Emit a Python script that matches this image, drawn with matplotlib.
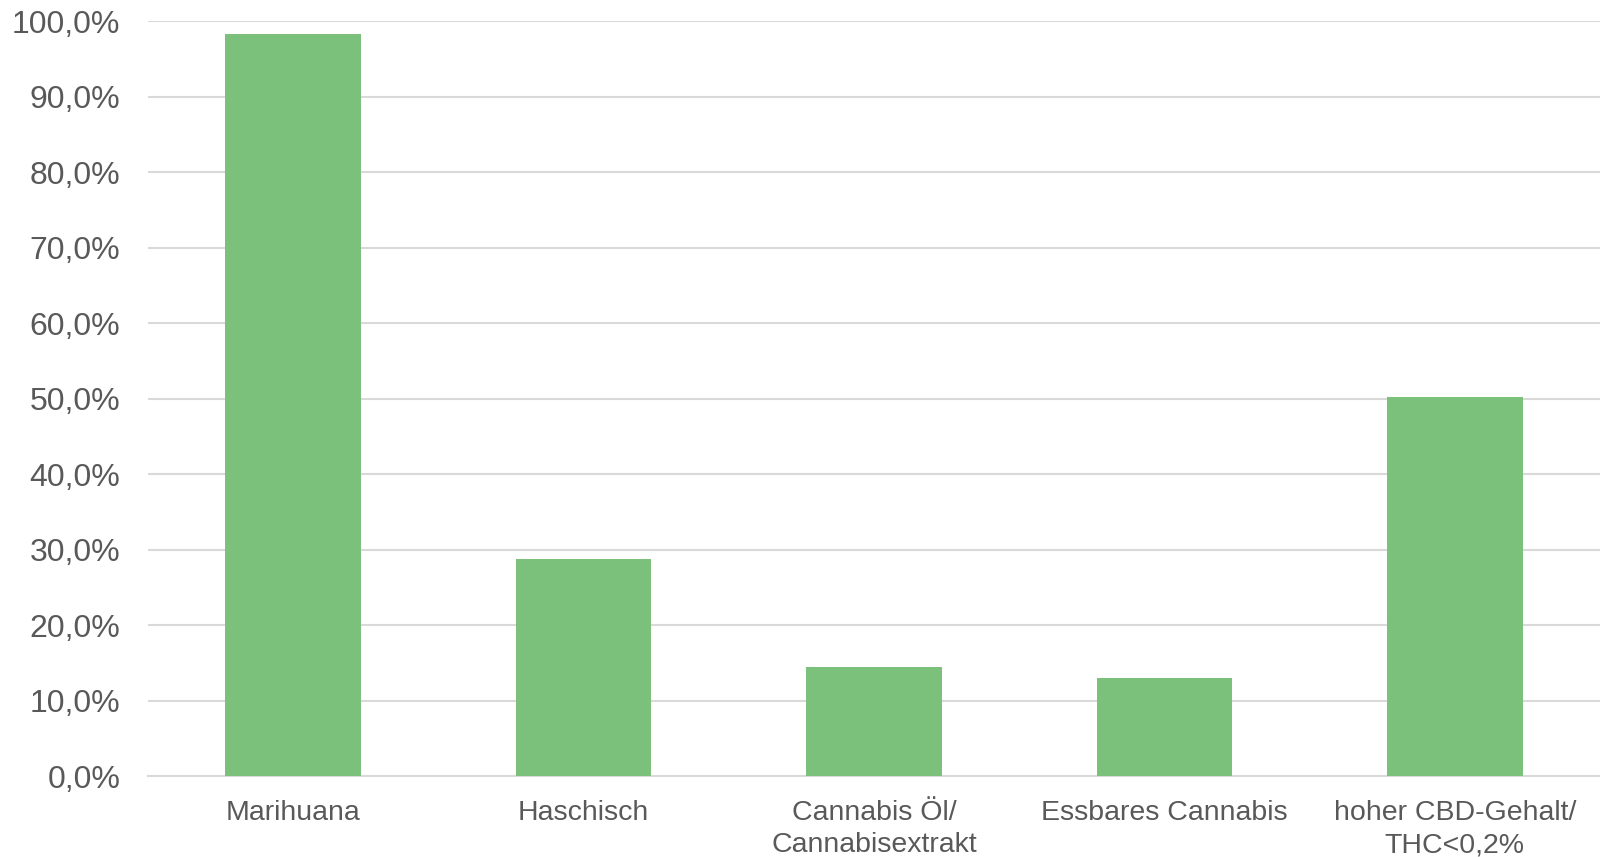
import matplotlib.pyplot as plt
from matplotlib.ticker import FuncFormatter

# Data
categories = ["Marihuana", "Haschisch", "Cannabis Öl/\nCannabisextrakt",
              "Essbares Cannabis", "hoher CBD-Gehalt/\nTHC<0,2%"]
values = [98.3, 28.8, 14.5, 13.0, 50.3]
y_ticks = list(range(0, 101, 10))

plt.rcParams['font.family'] = ['Liberation Sans', 'DejaVu Sans']

fig = plt.figure(figsize=(16, 8.57), dpi=100)
ax = fig.add_axes([0.0925, 0.094, 0.9075, 0.881])

ax.bar(range(len(categories)), values, width=0.467, color="#7BC07B", zorder=3)

# Axes limits and ticks
ax.set_xlim(-0.5, len(categories) - 0.5)
ax.set_ylim(0, 100)
ax.set_yticks(y_ticks)
ax.yaxis.set_major_formatter(FuncFormatter(lambda v, p: f"{v:.1f}%".replace(".", ",")))
ax.set_xticks(range(len(categories)))
ax.set_xticklabels(categories, linespacing=1.3)

ax.tick_params(axis="y", length=0, pad=20, labelsize=23, labelcolor="#595959")
ax.tick_params(axis="x", length=0, pad=17, labelsize=20.5, labelcolor="#595959")

# Grid and spines
ax.grid(axis="y", color="#D9D9D9", linewidth=1.5, zorder=0)
for s in ["top", "right", "left"]:
    ax.spines[s].set_visible(False)
ax.spines["bottom"].set_color("#D9D9D9")
ax.spines["bottom"].set_linewidth(1.5)

fig.savefig("out.png", dpi=100)
